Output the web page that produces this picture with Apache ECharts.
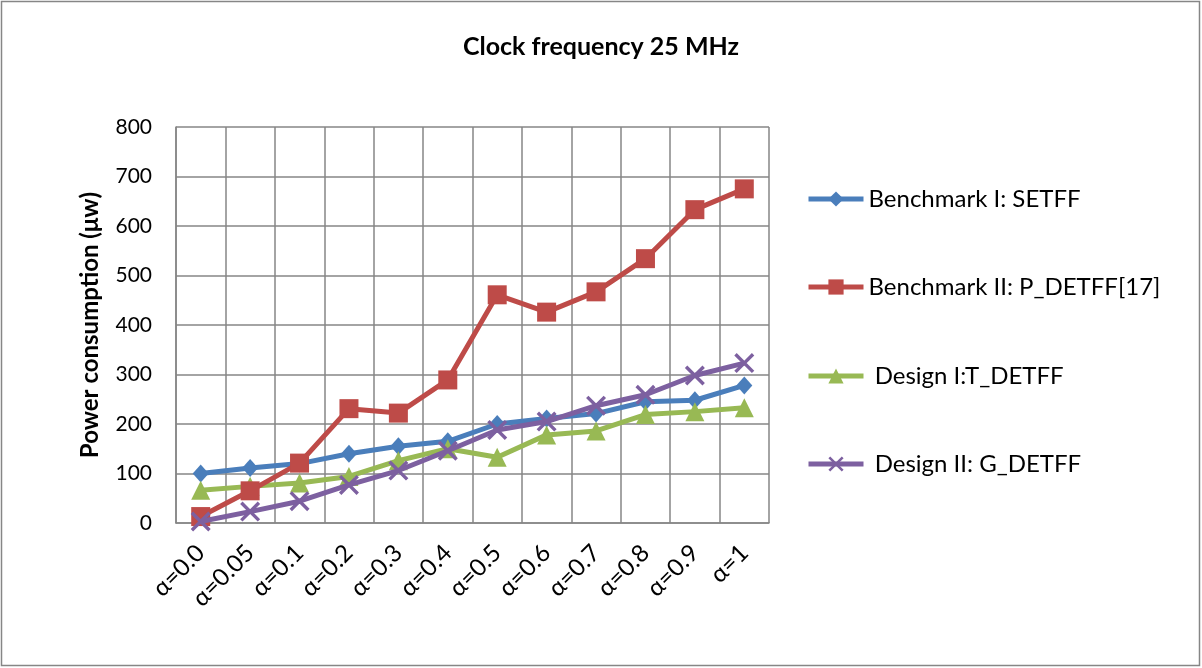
<!DOCTYPE html>
<html><head><meta charset="utf-8">
<script src="https://cdn.jsdelivr.net/npm/echarts@6/dist/echarts.min.js"></script>
<style>html,body{margin:0;padding:0;background:#fff}#c{width:1202px;height:668px}</style>
</head><body><div id="c"></div>
<script>
const categories = ['α=0.0','α=0.05','α=0.1','α=0.2','α=0.3','α=0.4','α=0.5','α=0.6','α=0.7','α=0.8','α=0.9','α=1'];
const seriesNames = ['Benchmark I: SETFF','Benchmark II: P_DETFF[17]',' Design I:T_DETFF',' Design II: G_DETFF'];
const setff = [100,111,120,140,155,165,200,211,221,245,248,278];
const pdetff = [13,65,121,231,222,289,461,426,467,534,633,675];
const tdetff = [66,74,81,94,126,150,133,178,186,219,225,233];
const gdetff = [3,23,44,77,106,146,188,205,237,259,298,323];
const yTicks = [0,100,200,300,400,500,600,700,800];

const colors = ['#4A7EBB','#BE4B48','#98B954','#7D60A0'];
const xPath = 'path://M0,1.2L1.2,0L10,8.8L8.8,10Z M8.8,0L10,1.2L1.2,10L0,8.8Z';
const symbols = ['diamond','rect','triangle',xPath];
const sizes = [[16,18],19,19,20];
const dataSets = [setff,pdetff,tdetff,gdetff];
const legendCenters = [199,287,376,464];

const chart = echarts.init(document.getElementById('c'));
chart.setOption({
  animation:false,
  backgroundColor:'#fff',
  title:{text:'Clock frequency 25 MHz',left:'center',top:29,textStyle:{fontFamily:'Lato',fontWeight:'bold',fontSize:25,color:'#000'}},
  graphic:[{type:'rect',shape:{x:1.5,y:1.5,width:1198,height:664},style:{fill:'none',stroke:'#868686',lineWidth:1.5},silent:true}],
  grid:{left:176,top:127,right:433,bottom:145,containLabel:false},
  legend:seriesNames.map((n,i)=>({
    orient:'vertical',left:806,top:legendCenters[i]-13,itemWidth:55,itemHeight:19,itemGap:0,padding:0,
    lineStyle:{width:5},
    textStyle:{fontFamily:'Lato',fontSize:24,lineHeight:26,color:'#000'},
    data:[n]})),
  xAxis:{type:'category',data:categories,boundaryGap:true,
    axisLine:{lineStyle:{color:'#868686',width:1.5}},
    axisTick:{show:false},
    splitLine:{show:true,interval:0,lineStyle:{color:'#868686',width:1.5}},
    axisLabel:{interval:0,rotate:45,fontFamily:'Lato',fontSize:24,color:'#000',margin:26}},
  yAxis:{type:'value',min:0,max:800,interval:100,
    name:'Power consumption (μw)',nameLocation:'middle',nameGap:74,
    nameTextStyle:{fontFamily:'Lato',fontWeight:'bold',fontSize:24,color:'#000'},
    axisLine:{show:true,lineStyle:{color:'#868686',width:1.5}},
    axisTick:{show:false},
    splitLine:{lineStyle:{color:'#868686',width:1.5}},
    axisLabel:{fontFamily:'Lato',fontSize:21,color:'#000',margin:24,
      formatter:v=>yTicks.includes(v)?String(v):''}},
  series:dataSets.map((d,i)=>({
    name:seriesNames[i],type:'line',data:d,symbol:symbols[i],symbolSize:sizes[i],
    showAllSymbol:true,
    lineStyle:{color:colors[i],width:5},
    itemStyle:{color:colors[i]},
    z:[2,3,2,4][i]
  }))
});
</script></body></html>
